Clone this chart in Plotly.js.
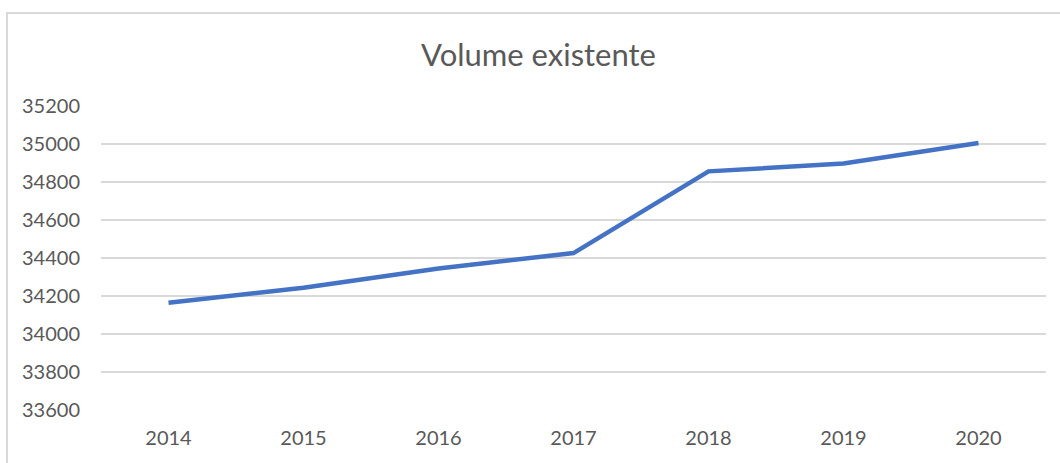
<!DOCTYPE html>
<html>
<head>
<meta charset="utf-8">
<script src="https://cdn.plot.ly/plotly-3.0.1.min.js"></script>
<style>
  html, body { margin: 0; padding: 0; background: #ffffff; }
  #wrap { position: relative; width: 1060px; height: 463px; overflow: hidden; }
  #chart { width: 1060px; height: 463px; }
  #frame { position: absolute; left: 6px; top: 12px; width: 1100px; height: 500px;
           border-left: 2px solid #d9d9d9; border-top: 2px solid #d9d9d9; pointer-events: none; }
</style>
</head>
<body>
<div id="wrap">
  <div id="chart"></div>
  <div id="frame"></div>
</div>
<script>
const years = ['2014', '2015', '2016', '2017', '2018', '2019', '2020'];
const volume = [34165, 34243, 34345, 34426, 34856, 34897, 35005];
const yTicks = [33600, 33800, 34000, 34200, 34400, 34600, 34800, 35000, 35200];
const chartTitle = 'Volume existente';

const textColor = '#595959';
const fontFamily = 'Lato, "Open Sans", "Noto Sans", sans-serif';

Plotly.newPlot('chart', [{
  x: years,
  y: volume,
  type: 'scatter',
  mode: 'lines',
  line: { color: '#4472C4', width: 4.5 },
  hoverinfo: 'x+y'
}], {
  width: 1060,
  height: 463,
  paper_bgcolor: '#ffffff',
  plot_bgcolor: '#ffffff',
  margin: { l: 101, r: 14, t: 105.7, b: 52.5 },
  showlegend: false,
  title: {
    text: chartTitle,
    font: { family: fontFamily, size: 31, color: textColor },
    x: 0.508, xanchor: 'center',
    y: 0.88, yanchor: 'middle'
  },
  xaxis: {
    type: 'category',
    range: [-0.5, years.length - 0.5],
    showgrid: false,
    zeroline: false,
    showline: false,
    ticks: '',
    ticklabelstandoff: 14,
    tickfont: { family: fontFamily, size: 20, color: textColor }
  },
  yaxis: {
    range: [33600, 35200],
    tickvals: yTicks,
    ticktext: yTicks.map(String),
    showgrid: true,
    gridcolor: '#d9d9d9',
    gridwidth: 1.5,
    zeroline: false,
    showline: false,
    ticks: '',
    ticklabelstandoff: 20,
    tickfont: { family: fontFamily, size: 20, color: textColor }
  }
}, { displayModeBar: false });
</script>
</body>
</html>
